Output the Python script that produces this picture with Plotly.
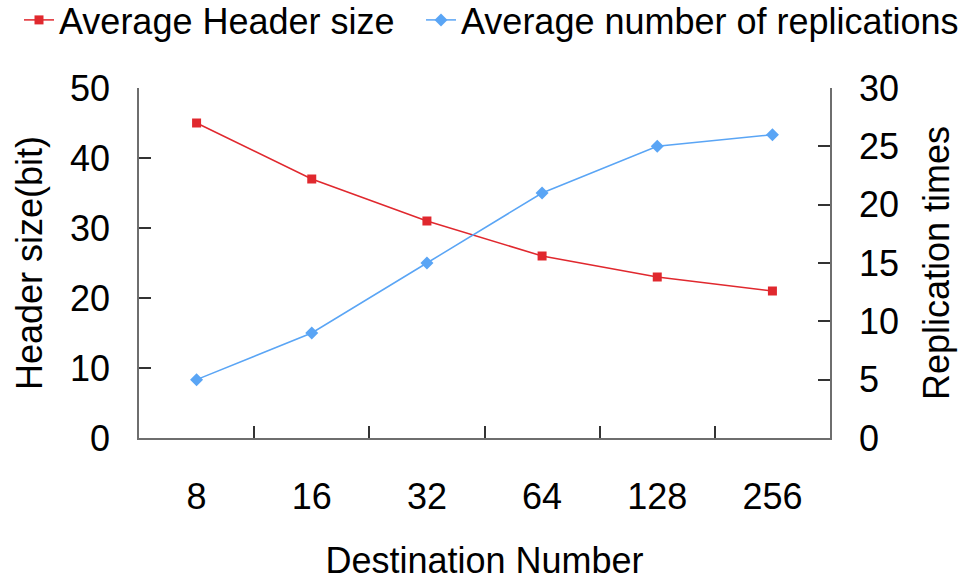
import plotly.graph_objects as go

categories = ["8", "16", "32", "64", "128", "256"]
header_size = [45, 37, 31, 26, 23, 21]
replications = [5, 9, 15, 21, 25, 26]

FONT = "Liberation Sans, Arial, sans-serif"

fig = go.Figure()
fig.add_trace(go.Scatter(
    x=categories, y=header_size, name="Average Header size",
    mode="lines+markers", legend="legend",
    line=dict(color="#e0282e", width=1.5),
    marker=dict(symbol="square", size=9, color="#e0282e"),
))
fig.add_trace(go.Scatter(
    x=categories, y=replications, name="Average number of replications",
    mode="lines+markers", yaxis="y2", legend="legend2",
    line=dict(color="#5aa5f5", width=1.5),
    marker=dict(symbol="diamond", size=10, color="#5aa5f5"),
))

axis_common = dict(
    showgrid=False, zeroline=False, showline=True, automargin=False,
    linecolor="#6e6e6e", linewidth=1.5,
    ticks="inside", ticklen=12, tickcolor="#333333", tickwidth=1.5,
    tickfont=dict(family=FONT, size=36, color="black"),
)

legend_common = dict(
    orientation="h", xref="container", yref="container",
    xanchor="left", yanchor="middle", y=1 - 20 / 581,
    font=dict(family=FONT, size=36, color="black"),
    bgcolor="rgba(0,0,0,0)",
)

fig.update_layout(
    width=969, height=581,
    margin=dict(l=139, r=139, t=88, b=143, autoexpand=False),
    paper_bgcolor="white", plot_bgcolor="white",
    font=dict(family=FONT, color="black"),
    showlegend=True,
    legend=dict(**legend_common, x=19 / 969),
    legend2=dict(**legend_common, x=421 / 969),
    xaxis=dict(
        **axis_common,
        type="category", tickson="boundaries",
        range=[-0.5, 5.5],
        ticklabelstandoff=26,
        title=dict(text="Destination Number", font=dict(family=FONT, size=36), standoff=32),
    ),
    yaxis=dict(
        **axis_common,
        range=[0, 50], dtick=10,
        ticklabelstandoff=20,
        title=dict(text="Header size(bit)", font=dict(family=FONT, size=36), standoff=16),
    ),
    yaxis2=dict(
        **axis_common,
        overlaying="y", side="right",
        range=[0, 30], dtick=5,
        ticklabelstandoff=20,
        title=dict(text="Replication times", font=dict(family=FONT, size=36), standoff=26),
    ),
)

fig.write_html("out.html", config={"displayModeBar": False},
               post_script="document.body.style.margin='0';")
